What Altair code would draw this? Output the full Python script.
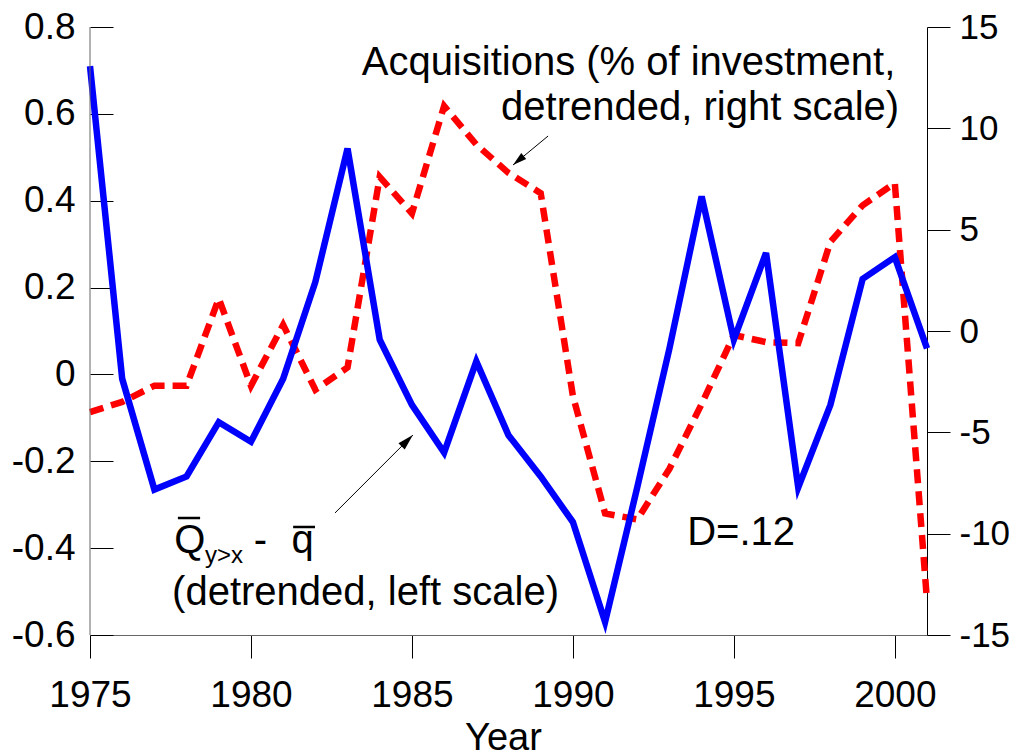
import altair as alt
import pandas as pd

# ---------------- data ----------------
years = list(range(1975, 2002))
q_gap = [0.71, -0.01, -0.265, -0.235, -0.11, -0.155, -0.01, 0.213, 0.52, 0.08,
         -0.07, -0.18, 0.03, -0.14, -0.235, -0.34, -0.57, -0.26, 0.06, 0.41,
         0.08, 0.28, -0.26, -0.07, 0.22, 0.27, 0.06]
acquisitions = [-4.0, -3.5, -2.7, -2.7, 1.6, -2.7, 0.3, -2.9, -1.8, 7.6,
                5.8, 11.1, 9.2, 7.8, 6.8, -3.2, -9.0, -9.3, -6.8, -3.6,
                -0.2, -0.55, -0.6, 4.4, 6.2, 7.3, -13.3]

x_ticks = [1975, 1980, 1985, 1990, 1995, 2000]
left_ticks = [0.8, 0.6, 0.4, 0.2, 0, -0.2, -0.4, -0.6]
right_ticks = [15, 10, 5, 0, -5, -10, -15]

# annotation texts (positions in data units: year, left-scale value)
ann_text = ["Acquisitions (% of investment,", "detrended, right scale)",
            "Q", "-", "q", "(detrended, left scale)", "D=.12"]
ann_x = [1983.44, 1987.77, 1977.62, 1980.09, 1981.26, 1977.55, 1993.55]
ann_y = [0.6895, 0.586, -0.411, -0.411, -0.411, -0.531, -0.393]

sub_text = ["y>x"]
sub_x = [1978.57]
sub_y = [-0.434]

bar_x1 = [1977.73, 1981.31]
bar_x2 = [1978.42, 1981.99]
bar_y = [-0.3306, -0.3513]

arrow_x1 = [1989.23, 1982.61]
arrow_y1 = [0.549, -0.319]
arrow_x2 = [1988.14, 1985.03]
arrow_y2 = [0.4822, -0.1395]
arrow_angle = [230, 45]
arrow_size = [196, 256]

FONT = "Liberation Sans"

df = pd.DataFrame({"year": years, "q": q_gap, "acq": acquisitions})
ann = pd.DataFrame({"text": ann_text, "x": ann_x, "y": ann_y})
sub = pd.DataFrame({"text": sub_text, "x": sub_x, "y": sub_y})
bars = pd.DataFrame({"x1": bar_x1, "x2": bar_x2, "y": bar_y})
arrows = pd.DataFrame({"x1": arrow_x1, "y1": arrow_y1, "x2": arrow_x2, "y2": arrow_y2,
                       "angle": arrow_angle, "size": arrow_size})
ldom = pd.DataFrame({"x": [1975], "lo": [-0.6], "hi": [0.8]})

xs = alt.Scale(domain=[1975, 2001], nice=False, zero=False)
yl = alt.Scale(domain=[-0.6, 0.8], nice=False, zero=False)
yr = alt.Scale(domain=[-15, 15], nice=False, zero=False)

x_axis = alt.Axis(values=x_ticks, format="d", title="Year", grid=False,
                  labelFont=FONT, labelFontSize=37, labelColor="black",
                  labelPadding=19, labelFlush=False, labelOverlap=False,
                  tickSize=23, tickColor="black", tickWidth=1,
                  domainColor="#666666", domainWidth=1,
                  titleFont=FONT, titleFontSize=38, titleFontWeight="normal",
                  titleColor="black", titleX=413, titleY=114,
                  titleBaseline="alphabetic", titleAlign="center")

left_axis = alt.Axis(orient="left", values=left_ticks, title="", grid=False,
                     labelExpr="datum.value == 0 ? '0' : replace(format(datum.value, '.1f'), '\u2212', '-')",
                     labelFont=FONT, labelFontSize=37, labelColor="black",
                     labelPadding=15, labelFlush=False, labelOverlap=False,
                     tickSize=23, tickColor="black", tickWidth=1,
                     domain=False, offset=-23)

right_axis = alt.Axis(orient="right", values=right_ticks, title="", grid=False,
                      labelExpr="replace(datum.label, '\u2212', '-')",
                      labelFont=FONT, labelFontSize=35, labelColor="black",
                      labelPadding=9, labelFlush=False, labelOverlap=False,
                      tickSize=23, tickColor="black", tickWidth=1,
                      domainColor="black", domainWidth=1)


def X(field):
    return alt.X(field, type="quantitative", scale=xs, axis=x_axis)


def YL(field):
    return alt.Y(field, type="quantitative", scale=yl, axis=left_axis)


red = alt.Chart(df).mark_line(color="#FF0000", strokeWidth=6.5,
                              strokeDash=[14, 8], strokeCap="butt").encode(
    x=X("year"),
    y=alt.Y("acq:Q", scale=yr, axis=right_axis),
)

blue = alt.Chart(df).mark_line(color="#0000FF", strokeWidth=6.5).encode(
    x=X("year"),
    y=YL("q"),
)

left_domain = alt.Chart(ldom).mark_rule(color="#666666", strokeWidth=1).encode(
    x=X("x"),
    y=YL("lo"),
    y2="hi:Q",
)

texts = alt.Chart(ann).mark_text(font=FONT, fontSize=40, align="left",
                                 baseline="alphabetic", color="black").encode(
    x=X("x"),
    y=YL("y"),
    text="text:N",
)

subs = alt.Chart(sub).mark_text(font=FONT, fontSize=24, align="left",
                                baseline="alphabetic", color="black").encode(
    x=X("x"),
    y=YL("y"),
    text="text:N",
)

overbars = alt.Chart(bars).mark_rule(color="black", strokeWidth=2.5).encode(
    x=X("x1"),
    x2="x2:Q",
    y=YL("y"),
)

arrow_lines = alt.Chart(arrows).mark_rule(color="black", strokeWidth=1).encode(
    x=X("x1"),
    x2="x2:Q",
    y=YL("y1"),
    y2="y2:Q",
)

arrow_heads = alt.Chart(arrows).mark_point(
    shape="M0,0 L-0.55,2 L0.55,2 Z", filled=True, color="black",
    opacity=1, strokeWidth=0).encode(
    x=X("x2"),
    y=YL("y2"),
    angle=alt.Angle("angle:Q", scale=None),
    size=alt.Size("size:Q", scale=None, legend=None),
)

left_group = alt.layer(blue, left_domain, texts, subs, overbars, arrow_lines, arrow_heads)

chart = alt.layer(red, left_group).resolve_scale(y="independent").resolve_axis(
    y="independent"
).properties(
    width=837, height=608,
    autosize=alt.AutoSizeParams(type="none"),
    padding={"left": 82, "top": 19, "right": 82, "bottom": 118},
    background="white",
).configure_view(stroke="transparent")

chart.save("out.html", embed_options={"renderer": "svg", "actions": False})
